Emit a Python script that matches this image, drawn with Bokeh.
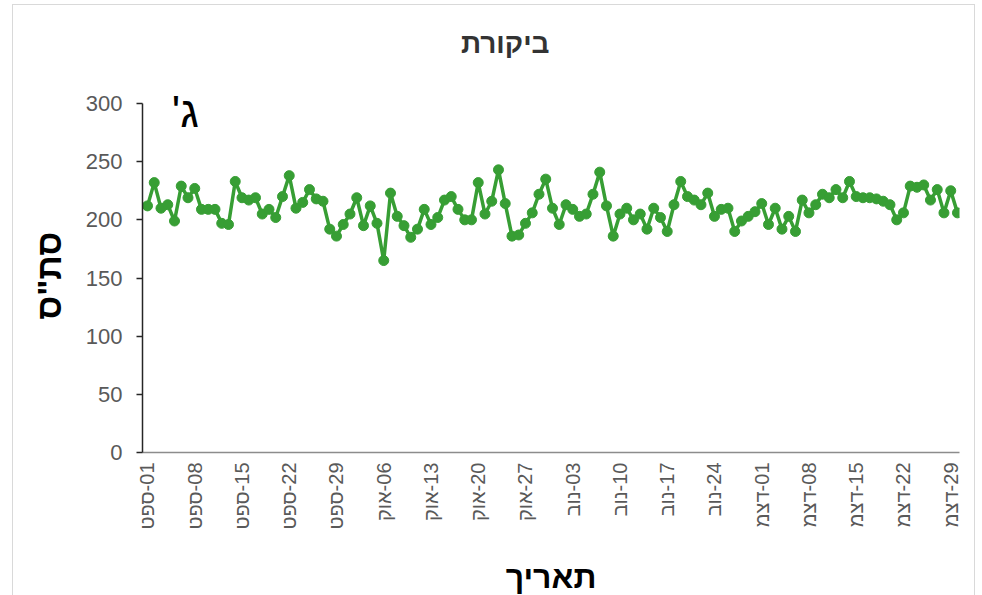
import math
import pandas as pd
from bokeh.plotting import figure
from bokeh.models import Label, FixedTicker, Range1d, ColumnDataSource, Title
from bokeh.embed import file_html
from bokeh.resources import INLINE

# ---- data ----
start_date = "2023-09-01"
values = [
    212, 232, 210, 213, 199, 229, 219, 227, 209, 209,
    209, 197, 196, 233, 219, 217, 219, 205, 209, 202,
    220, 238, 210, 215, 226, 218, 216, 192, 186, 196,
    205, 219, 195, 212, 197, 165, 223, 203, 195, 185,
    192, 209, 196, 202, 217, 220, 209, 200, 200, 232,
    205, 216, 243, 214, 186, 187, 197, 206, 222, 235,
    210, 196, 213, 209, 203, 205, 222, 241, 212, 186,
    205, 210, 200, 205, 192, 210, 202, 190, 213, 233,
    220, 217, 213, 223, 203, 209, 210, 190, 199, 203,
    207, 214, 196, 210, 192, 203, 190, 217, 206, 213,
    222, 219, 226, 219, 233, 220, 219, 219, 218, 216,
    213, 200, 206, 229, 228, 230, 217, 226, 206, 225,
    206,
]
tick_days = [0, 7, 14, 21, 28, 35, 42, 49, 56, 63, 70, 77, 84, 91, 98, 105, 112, 119]
tick_labels = [
    "01-ספט", "08-ספט", "15-ספט", "22-ספט", "29-ספט",
    "06-אוק", "13-אוק", "20-אוק", "27-אוק",
    "03-נוב", "10-נוב", "17-נוב", "24-נוב",
    "01-דצמ", "08-דצמ", "15-דצמ", "22-דצמ", "29-דצמ",
]
y_ticks = [0, 50, 100, 150, 200, 250, 300]
title_text = "ביקורת"
x_title = "תאריך"
y_title = 'סת"ס'
panel_tag = "ג'"

dates = pd.date_range(start_date, periods=len(values), freq="D")
day_index = list(range(len(values)))
src = ColumnDataSource(dict(day=day_index, value=values, date=dates))

RLE, PDF = "\u202B", "\u202C"
FONT = "Liberation Sans"
GREEN = "#379e34"

p = figure(
    frame_width=817, frame_height=441,
    min_border_left=129, min_border_right=15,
    min_border_top=6, min_border_bottom=140,
    x_range=Range1d(-0.74, 120.3), y_range=Range1d(0, 379.1),
    output_backend="svg", toolbar_location=None,
    background_fill_color="white", border_fill_color="white",
)
p.margin = (4, 0, 0, 12)
p.outline_line_color = None
p.grid.visible = False
p.styles = {"border": "1px solid #d9d9d9"}

p.line("day", "value", source=src, line_color=GREEN, line_width=3.5)
p.scatter("day", "value", source=src, size=10, fill_color=GREEN, line_color=GREEN)

# y axis
ya = p.yaxis[0]
ya.ticker = FixedTicker(ticks=y_ticks)
ya.bounds = (0, 300)
ya.axis_line_color = "#262626"
ya.axis_line_width = 1.5
ya.major_tick_line_color = "#262626"
ya.major_tick_line_width = 1.5
ya.major_tick_out = 6
ya.major_tick_in = 0
ya.minor_tick_line_color = None
ya.major_label_text_font = FONT
ya.major_label_text_font_size = "22px"
ya.major_label_text_color = "#595959"
ya.major_label_standoff = 14

# y axis title as a side title (keeps it at the reference's vertical position)
p.add_layout(Title(text=y_title, align="left", offset=133, vertical_align="middle",
                   text_font=FONT, text_font_size="34px", text_font_style="bold",
                   text_color="#000000", standoff=28), "left")

# x axis
xa = p.xaxis[0]
xa.ticker = FixedTicker(ticks=tick_days)
xa.major_label_overrides = {d: RLE + lab + PDF for d, lab in zip(tick_days, tick_labels)}
xa.major_label_orientation = math.pi / 2
xa.axis_line_color = "#8c8c8c"
xa.axis_line_width = 1.5
xa.major_tick_line_color = None
xa.minor_tick_line_color = None
xa.major_tick_out = 0
xa.major_tick_in = 0
xa.major_label_text_font = FONT
xa.major_label_text_font_size = "20px"
xa.major_label_text_color = "#595959"
xa.major_label_standoff = 10
xa.axis_label = x_title
xa.axis_label_text_font = FONT
xa.axis_label_text_font_size = "32px"
xa.axis_label_text_font_style = "bold"
xa.axis_label_text_color = "#000000"
xa.axis_label_standoff = 26

p.add_layout(Label(x=53, y=351.6, x_units="data", y_units="data", text=title_text,
                   text_align="center", text_baseline="middle", text_font=FONT,
                   text_font_size="28px", text_font_style="bold", text_color="#333333"))
p.add_layout(Label(x=5.6, y=293, x_units="data", y_units="data", text=RLE + panel_tag + PDF,
                   text_align="center", text_baseline="middle", text_font=FONT,
                   text_font_size="44px", text_color="#000000"))

open("out.html", "w").write(file_html(p, INLINE))
